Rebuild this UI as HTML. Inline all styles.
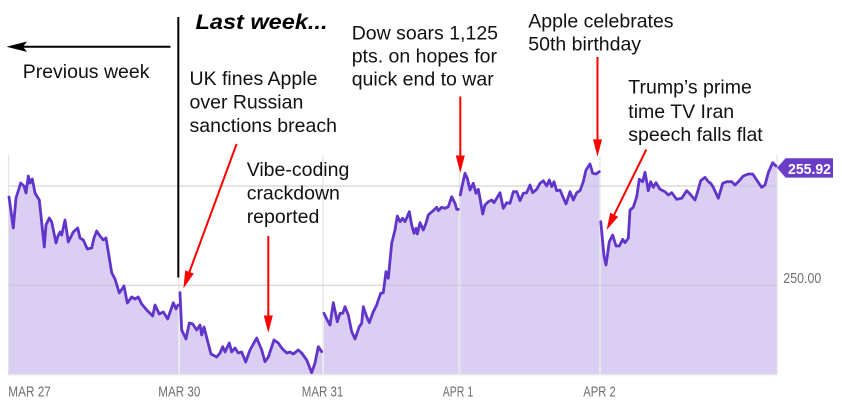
<!DOCTYPE html>
<html>
<head>
<meta charset="utf-8">
<style>
  html,body{margin:0;padding:0;background:#fff;}
  svg{display:block;}
  .ann{font-family:"Liberation Sans",Arial,sans-serif;font-size:19.5px;fill:#111;}
  .ax{font-family:"Liberation Sans",Arial,sans-serif;font-size:14.5px;fill:#6f6f6f;}
</style>
</head>
<body>
<svg width="842" height="400" viewBox="0 0 842 400" xmlns="http://www.w3.org/2000/svg">
  <rect x="0" y="0" width="842" height="400" fill="#ffffff"/>

  <!-- gray grid frame -->
  <g stroke="#e3e3e3" stroke-width="1.2" fill="none">
    <line x1="8.5" y1="155" x2="8.5" y2="374.5"/>
    <line x1="179" y1="155" x2="179" y2="374.5"/>
    <line x1="323" y1="155" x2="323" y2="374.5"/>
    <line x1="459.5" y1="155" x2="459.5" y2="374.5"/>
    <line x1="600" y1="155" x2="600" y2="374.5"/>
    <line x1="777" y1="155" x2="777" y2="374.5"/>
    <line x1="8" y1="186" x2="777" y2="186"/>
    <line x1="8" y1="285.3" x2="777" y2="285.3"/>
    <line x1="8" y1="374.8" x2="777" y2="374.8"/>
  </g>

  <!-- fills -->
  <g fill="#dacff2" stroke="none">
    <polygon points="9,374 9,197 13.3,228 16,198 20.7,183 24,186 26,193 28.3,176 30,183 32.3,179 35,193 39.3,200 44.3,247 46,225 49.3,218 51.7,222 56,243 58,236 60,232 61.7,235 65,220 68.3,242 73.3,232 77.7,228 80,238 83.3,240 87.3,249 91.7,248 94,238 96.7,231 100,236 103.3,240 106,238 108,250 111.7,272.7 115,279 119.3,293 124,286 127.3,303 131.7,297 135,299 138.3,297 141.7,304 146.7,310 152.7,316 155,305 159.3,314 163.3,312 167.7,319 173.3,302.7 176,309 178.2,305 178.2,374"/>
    <polygon points="180,374 180,292.7 181.7,330 186,339 189.3,323 192.7,324 196.7,330 200,325 201.7,335 204,327 207.3,340 211,354 216.7,357 220,353 222.7,346.7 225,352 229.3,343 231.7,352 235,348 238.3,353 241.7,352 245.7,362 250,350 256.7,338 261.7,350 265,361.7 268.3,357 274,340 278.3,343 281.7,348 286.7,353 290,352 293.3,354 298.3,350 301.7,353 306.7,360 311.7,372.7 315,363 318.3,346.7 322.2,351.7 322.2,374"/>
    <polygon points="324,374 324,313.3 326.7,319 330,325 333.3,302.7 337.3,321.7 340,313.3 342.7,313.3 345,306.7 348.3,315 351.7,331.7 355,339 359.3,326.7 361.7,323.3 363.3,306.7 366.7,316.7 369.3,322.7 373.3,311.7 376.7,305 378.3,300 380.7,293.3 383.3,292.7 386,271.7 388.3,278.3 391.7,243.3 395,230 397.3,216 400,221.7 402.7,218.3 405,221.7 407.3,216.7 409.3,211.7 411.7,225 414,233.3 416,228.3 417.3,234 420,222.7 423.3,230 426,223.3 428.3,215 430.7,212.7 433.3,210.7 436.7,207.3 438.3,210.7 441.7,207.3 445,208.3 448.3,206.7 451.7,196.7 455,203.3 456.7,209.3 458.6,209.3 458.6,374"/>
    <polygon points="460.3,374 460.3,195 462.7,183.3 465,173.3 467.3,178.3 470,190 473.3,183.3 476,193.3 478.3,189.3 480,198.3 482.7,214 485,205 488.3,201.7 491.7,200 494,202.7 496.7,198.3 500,192.7 503.3,208.3 506.7,202.7 510,203.3 513.3,191.7 516.7,191.7 520,200.7 523.3,193.3 526.7,192.7 530,185 532.7,192.7 536.7,189.3 540,183.3 543.3,180.7 546.7,186 549.3,180 551.7,186.7 554,181.7 556.7,190.7 560,190 566,204 570,191.7 573.3,200 576.7,192.7 580,190.7 583.3,181.7 586,170 590,164 592.7,173.3 596,174 599.2,171.7 599.2,374"/>
    <polygon points="600.8,374 600.8,221.7 604,256 606,265 609.3,241.7 612.7,235 616,246 619.3,246 622.7,239.3 625,242.7 628.3,238.3 630,210 633.3,207.3 636.7,196.7 639.3,179.3 642.7,181.7 645,172.3 648.3,190.7 650.7,181.7 653.3,187.3 656,182.7 660,189.3 665,191.7 668.3,195 671.7,192.7 676.7,199.3 681.7,198.3 686.7,190.7 690,194 695,200 697.3,192.7 700.7,180.7 705,177.3 708.3,181.7 710.7,183.3 713.3,187.3 718.3,198.3 722.7,183.3 726.7,181.7 731.7,181.7 735,185 739.3,180.7 743.3,176 748.3,174 752.7,174 756.7,180 761.7,187.3 765,185 768.3,172.7 772.7,162.7 776.5,166 776.5,374"/>
  </g>

  <!-- gridlines seen through fill -->
  <g stroke="#000" stroke-opacity="0.07" stroke-width="1.2">
    <line x1="9" y1="186" x2="777" y2="186"/>
    <line x1="9" y1="285.3" x2="777" y2="285.3"/>
  </g>

  <!-- price line -->
  <g fill="none" stroke="#6135c9" stroke-width="2.8" stroke-linejoin="round" stroke-linecap="round">
    <polyline points="9,197 13.3,228 16,198 20.7,183 24,186 26,193 28.3,176 30,183 32.3,179 35,193 39.3,200 44.3,247 46,225 49.3,218 51.7,222 56,243 58,236 60,232 61.7,235 65,220 68.3,242 73.3,232 77.7,228 80,238 83.3,240 87.3,249 91.7,248 94,238 96.7,231 100,236 103.3,240 106,238 108,250 111.7,272.7 115,279 119.3,293 124,286 127.3,303 131.7,297 135,299 138.3,297 141.7,304 146.7,310 152.7,316 155,305 159.3,314 163.3,312 167.7,319 173.3,302.7 176,309 178,305"/>
    <polyline points="180,292.7 181.7,330 186,339 189.3,323 192.7,324 196.7,330 200,325 201.7,335 204,327 207.3,340 211,354 216.7,357 220,353 222.7,346.7 225,352 229.3,343 231.7,352 235,348 238.3,353 241.7,352 245.7,362 250,350 256.7,338 261.7,350 265,361.7 268.3,357 274,340 278.3,343 281.7,348 286.7,353 290,352 293.3,354 298.3,350 301.7,353 306.7,360 311.7,372.7 315,363 318.3,346.7 321.7,351.7"/>
    <polyline points="324,313.3 326.7,319 330,325 333.3,302.7 337.3,321.7 340,313.3 342.7,313.3 345,306.7 348.3,315 351.7,331.7 355,339 359.3,326.7 361.7,323.3 363.3,306.7 366.7,316.7 369.3,322.7 373.3,311.7 376.7,305 378.3,300 380.7,293.3 383.3,292.7 386,271.7 388.3,278.3 391.7,243.3 395,230 397.3,216 400,221.7 402.7,218.3 405,221.7 407.3,216.7 409.3,211.7 411.7,225 414,233.3 416,228.3 417.3,234 420,222.7 423.3,230 426,223.3 428.3,215 430.7,212.7 433.3,210.7 436.7,207.3 438.3,210.7 441.7,207.3 445,208.3 448.3,206.7 451.7,196.7 455,203.3 456.7,209.3 458.3,209.3"/>
    <polyline points="460.3,195 462.7,183.3 465,173.3 467.3,178.3 470,190 473.3,183.3 476,193.3 478.3,189.3 480,198.3 482.7,214 485,205 488.3,201.7 491.7,200 494,202.7 496.7,198.3 500,192.7 503.3,208.3 506.7,202.7 510,203.3 513.3,191.7 516.7,191.7 520,200.7 523.3,193.3 526.7,192.7 530,185 532.7,192.7 536.7,189.3 540,183.3 543.3,180.7 546.7,186 549.3,180 551.7,186.7 554,181.7 556.7,190.7 560,190 566,204 570,191.7 573.3,200 576.7,192.7 580,190.7 583.3,181.7 586,170 590,164 592.7,173.3 596,174 599.3,171.7"/>
    <polyline points="600.8,221.7 604,256 606,265 609.3,241.7 612.7,235 616,246 619.3,246 622.7,239.3 625,242.7 628.3,238.3 630,210 633.3,207.3 636.7,196.7 639.3,179.3 642.7,181.7 645,172.3 648.3,190.7 650.7,181.7 653.3,187.3 656,182.7 660,189.3 665,191.7 668.3,195 671.7,192.7 676.7,199.3 681.7,198.3 686.7,190.7 690,194 695,200 697.3,192.7 700.7,180.7 705,177.3 708.3,181.7 710.7,183.3 713.3,187.3 718.3,198.3 722.7,183.3 726.7,181.7 731.7,181.7 735,185 739.3,180.7 743.3,176 748.3,174 752.7,174 756.7,180 761.7,187.3 765,185 768.3,172.7 772.7,162.7 776,166"/>
  </g>

  <!-- price tag -->
  <polygon points="777,167.8 785.5,158.3 833,158.3 833,177.6 785.5,177.6" fill="#6a3dc9"/>
  <text x="788" y="174" font-family="Liberation Sans, Arial, sans-serif" font-size="15" font-weight="bold" fill="#ffffff" textLength="43" lengthAdjust="spacingAndGlyphs">255.92</text>

  <!-- y-axis label -->
  <text class="ax" x="783.3" y="283" fill="#616161" textLength="38" lengthAdjust="spacingAndGlyphs">250.00</text>

  <!-- x-axis labels -->
  <text class="ax" x="8.3" y="396.5" textLength="42.5" lengthAdjust="spacingAndGlyphs">MAR 27</text>
  <text class="ax" x="158.3" y="396.5" textLength="42" lengthAdjust="spacingAndGlyphs">MAR 30</text>
  <text class="ax" x="301.8" y="396.5" textLength="41.5" lengthAdjust="spacingAndGlyphs">MAR 31</text>
  <text class="ax" x="442.7" y="396.5" textLength="30.5" lengthAdjust="spacingAndGlyphs">APR 1</text>
  <text class="ax" x="583.3" y="396.5" textLength="32.5" lengthAdjust="spacingAndGlyphs">APR 2</text>

  <!-- black markers -->
  <line x1="178.3" y1="17" x2="178.3" y2="277.5" stroke="#000" stroke-width="2"/>
  <line x1="22" y1="46.7" x2="170.5" y2="46.7" stroke="#000" stroke-width="2"/>
  <polygon points="6.5,46.7 27,41.5 23,46.7 27,51.9" fill="#000"/>

  <!-- headings / annotations -->
  <text x="195.5" y="29" font-family="Liberation Sans, Arial, sans-serif" font-size="21.5" font-weight="bold" font-style="italic" fill="#000" textLength="132" lengthAdjust="spacingAndGlyphs">Last week...</text>
  <text class="ann" x="22.7" y="78">Previous week</text>

  <text class="ann" x="189.5" y="85">UK fines Apple</text>
  <text class="ann" x="189.5" y="108.7">over Russian</text>
  <text class="ann" x="189.5" y="131.8">sanctions breach</text>

  <text class="ann" x="246.7" y="176">Vibe-coding</text>
  <text class="ann" x="246.7" y="199.6">crackdown</text>
  <text class="ann" x="246.7" y="223">reported</text>

  <text class="ann" x="351.7" y="39.4">Dow soars 1,125</text>
  <text class="ann" x="351.7" y="62.5">pts. on hopes for</text>
  <text class="ann" x="351.7" y="85.5">quick end to war</text>

  <text class="ann" x="528.3" y="27.7">Apple celebrates</text>
  <text class="ann" x="528.3" y="50.6">50th birthday</text>

  <text class="ann" x="628.3" y="93.4">Trump’s prime</text>
  <text class="ann" x="628.3" y="117.8">time TV Iran</text>
  <text class="ann" x="628.3" y="140.8">speech falls flat</text>

  <!-- red arrows -->
  <g stroke="#ff0000" stroke-width="2" fill="none">
    <line x1="236.6" y1="144" x2="189.4" y2="272"/>
    <line x1="268.3" y1="236" x2="268.3" y2="316"/>
    <line x1="460.3" y1="96.5" x2="460.3" y2="156"/>
    <line x1="597.5" y1="57" x2="597.5" y2="140"/>
    <line x1="646.3" y1="149.5" x2="614.2" y2="214.7"/>
  </g>
  <g fill="#ff0000">
    <polygon points="183.4,288.5 193.7,273.6 185.2,270.4"/>
    <polygon points="268.3,332.7 263.8,315.5 272.8,315.5"/>
    <polygon points="460.3,172.8 455.8,155.5 464.8,155.5"/>
    <polygon points="597.5,156.6 593,139.4 602,139.4"/>
    <polygon points="606.6,230 618.2,216.7 610.2,212.7"/>
  </g>
</svg>
</body>
</html>
